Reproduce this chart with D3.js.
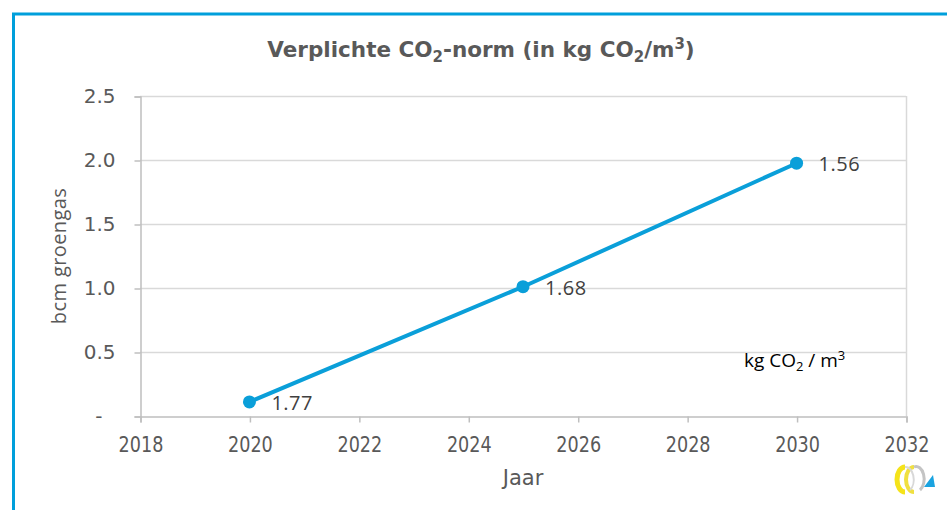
<!DOCTYPE html>
<html>
<head>
<meta charset="utf-8">
<script src="https://cdn.jsdelivr.net/npm/d3@7"></script>
<style>
  body { margin: 0; background: #fff; }
  svg { display: block; }
</style>
</head>
<body>
<div id="chart"></div>
<script>
// data
years = [2020, 2025, 2030];
groengas = [0.11, 1.01, 1.975];
normLabels = ["1.77", "1.68", "1.56"];
xTicks = [2018, 2020, 2022, 2024, 2026, 2028, 2030, 2032];
yTicks = [0, 0.5, 1.0, 1.5, 2.0, 2.5];

width = 947;
height = 510;
margin = ({top: 96, right: 41, bottom: 94, left: 140});
lineColor = "#0a9fd9";
textColor = "#595959";

function drawChart() {
  const svg = d3.select("#chart")
    .append("svg")
    .attr("width", width)
    .attr("height", height);

  // blue frame
  svg.append("path")
    .attr("d", `M13.5,${height} V14 H${width}`)
    .attr("fill", "none")
    .attr("stroke", "#009fdb")
    .attr("stroke-width", 3);

  const x = d3.scaleLinear()
    .domain([2018, 2032])
    .range([margin.left, width - margin.right]);

  const y = d3.scaleLinear()
    .domain([0, 2.5])
    .range([height - margin.bottom, margin.top]);

  // gridlines
  svg.append("g")
    .selectAll("line")
    .data(yTicks.filter(d => d > 0))
    .join("line")
      .attr("x1", x(2018))
      .attr("x2", x(2032))
      .attr("y1", d => y(d) + 0.5)
      .attr("y2", d => y(d) + 0.5)
      .attr("stroke", "#d9d9d9")
      .attr("stroke-width", 1.5);

  svg.append("line")
    .attr("x1", x(2032) + 0.5)
    .attr("x2", x(2032) + 0.5)
    .attr("y1", y(2.5))
    .attr("y2", y(0))
    .attr("stroke", "#d9d9d9")
    .attr("stroke-width", 1.5);

  // y axis
  const yAxis = d3.axisLeft(y)
    .tickValues(yTicks)
    .tickSize(6)
    .tickPadding(19)
    .tickFormat(d => d === 0 ? "-" : d3.format(".1f")(d));

  const yAxisGroup = svg.append("g")
    .attr("transform", `translate(${x(2018) + 0.5},0.5)`)
    .call(yAxis);

  yAxisGroup.selectAll("path, line").attr("stroke", "#bfbfbf").attr("stroke-width", 1.5);
  yAxisGroup.selectAll("text")
    .attr("fill", textColor)
    .attr("font-family", "DejaVu Sans")
    .attr("font-size", 20)
    // accounting style dash sits further left
    .attr("dx", d => d === 0 ? -13 : 0);

  // x axis
  const xAxis = d3.axisBottom(x)
    .tickValues(xTicks)
    .tickSize(6)
    .tickPadding(14)
    .tickFormat(d3.format("d"));

  const xAxisGroup = svg.append("g")
    .attr("transform", `translate(0.5,${y(0) + 0.5})`)
    .call(xAxis);

  xAxisGroup.selectAll("path, line").attr("stroke", "#bfbfbf").attr("stroke-width", 1.5);
  xAxisGroup.selectAll("text")
    .attr("fill", textColor)
    .attr("font-family", "DejaVu Sans")
    .attr("font-size", 22)
    .attr("transform", "scale(0.8,1)");

  // titles
  const title = svg.append("text")
    .attr("x", 481)
    .attr("y", 57)
    .attr("text-anchor", "middle")
    .attr("fill", textColor)
    .attr("font-family", "DejaVu Sans")
    .attr("font-weight", "bold")
    .attr("font-size", 21.5);
  title.append("tspan").text("Verplichte CO");
  title.append("tspan").attr("font-size", 15).attr("dy", 5).text("2");
  title.append("tspan").attr("dy", -5).text("-norm (in kg CO");
  title.append("tspan").attr("font-size", 15).attr("dy", 5).text("2");
  title.append("tspan").attr("dy", -5).text("/m");
  title.append("tspan").attr("font-size", 15).attr("dy", -8).text("3");
  title.append("tspan").attr("dy", 8).text(")");

  svg.append("text")
    .attr("transform", `translate(66,${(y(0) + y(2.5)) / 2}) rotate(-90)`)
    .attr("text-anchor", "middle")
    .attr("fill", textColor)
    .attr("font-family", "Open Sans")
    .attr("font-size", 20)
    .attr("letter-spacing", 0.4)
    .text("bcm groengas");

  svg.append("text")
    .attr("x", x(2025))
    .attr("y", 485)
    .attr("text-anchor", "middle")
    .attr("fill", textColor)
    .attr("font-family", "DejaVu Sans")
    .attr("font-size", 21)
    .text("Jaar");

  // unit note
  const unit = svg.append("text")
    .attr("x", 744)
    .attr("y", 367)
    .attr("fill", "#000")
    .attr("font-family", "Open Sans")
    .attr("font-size", 19);
  unit.append("tspan").text("kg CO");
  unit.append("tspan").attr("font-size", 13).attr("dy", 4).text("2");
  unit.append("tspan").attr("dy", -4).text(" / m");
  unit.append("tspan").attr("font-size", 13).attr("dy", -7).text("3");

  // line and points
  const points = years.map((d, i) => ({year: d, value: groengas[i], label: normLabels[i]}));

  const line = d3.line()
    .x(d => x(d.year))
    .y(d => y(d.value));

  svg.append("path")
    .datum(points)
    .attr("d", line)
    .attr("fill", "none")
    .attr("stroke", lineColor)
    .attr("stroke-width", 4);

  svg.append("g")
    .selectAll("circle")
    .data(points)
    .join("circle")
      .attr("cx", d => x(d.year))
      .attr("cy", d => y(d.value))
      .attr("r", 6.5)
      .attr("fill", lineColor);

  svg.append("g")
    .selectAll("text")
    .data(points)
    .join("text")
      .attr("x", d => x(d.year) + 22)
      .attr("y", d => y(d.value) + 8)
      .attr("fill", "#404040")
      .attr("font-family", "Open Sans")
      .attr("font-size", 20)
      .attr("letter-spacing", 0.5)
      .text(d => d.label);

  // logo, bottom right
  const logo = svg.append("g");
  logo.append("path")
    .attr("d", "M905,467 A8,12.5 0 0 0 905,492")
    .attr("fill", "none").attr("stroke", "#f5e31a").attr("stroke-width", 5);
  logo.append("path")
    .attr("d", "M914,467 A8,12.5 0 0 0 914,492")
    .attr("fill", "none").attr("stroke", "#f0e040").attr("stroke-width", 4);
  logo.append("path")
    .attr("d", "M905,467 A8,12.5 0 0 1 910,490")
    .attr("fill", "none").attr("stroke", "#d8d8d8").attr("stroke-width", 2);
  logo.append("path")
    .attr("d", "M914,467 A8,12.5 0 0 1 920,490")
    .attr("fill", "none").attr("stroke", "#c4c4c4").attr("stroke-width", 3);
  logo.append("path")
    .attr("d", "M924,487 L935,487 L933,475 Z")
    .attr("fill", "#1aa3e0");
}

window.onload = drawChart;
</script>
</body>
</html>
